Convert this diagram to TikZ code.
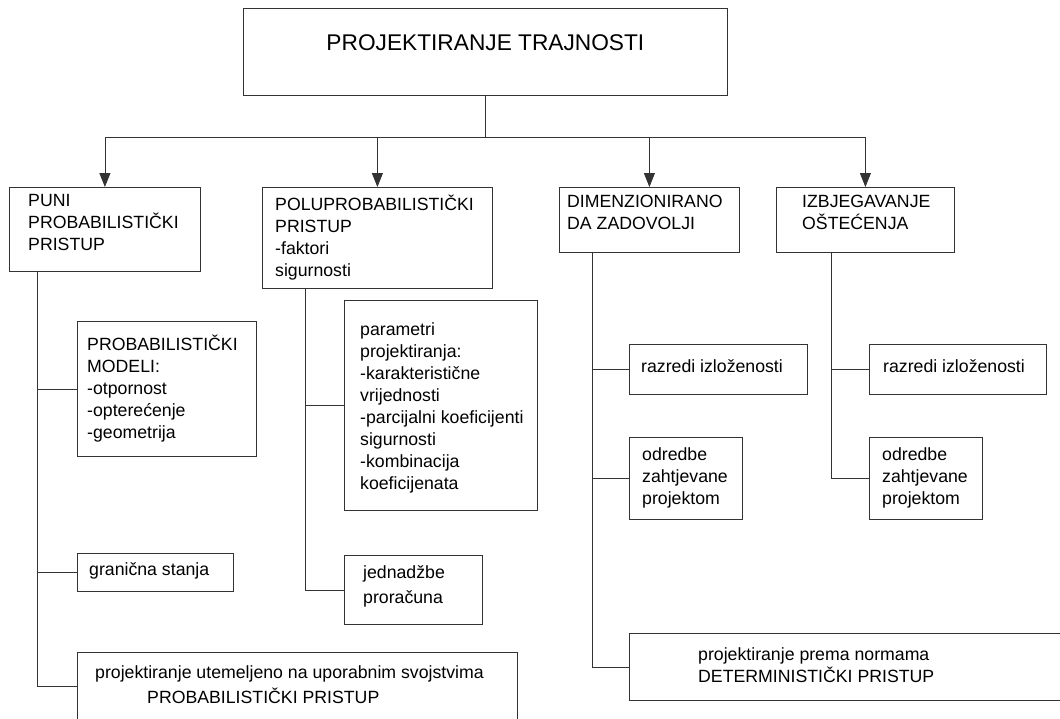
\documentclass[tikz,border=0pt]{standalone}
\usepackage{fontspec}
\setmainfont{Liberation Sans}
\usetikzlibrary{positioning,calc,arrows.meta}

\begin{document}
\begin{tikzpicture}[x=1pt,y=-1pt]
\colorlet{lncol}{black!80}
\tikzstyle{box}=[draw=lncol, line width=0.8pt, rectangle, anchor=north west, inner sep=0pt];
\tikzstyle{txt}=[anchor=north west, inner sep=0pt, align=left, font=\fontsize{17.7}{22}\selectfont];
\tikzstyle{lnk}=[draw=lncol, line width=0.8pt];
\tikzstyle{arr}=[lnk, -{Triangle[width=11pt,length=14pt]}];

\useasboundingbox (0,0) rectangle (1060,718);
\clip (0,0) rectangle (1060,718);

\begin{scope}
        \node[box, minimum width=484, minimum height=87] (ttl) at (243,8) {};
        \node[txt, font=\fontsize{22.7}{27}\selectfont, below=26pt of ttl.north] (ttltxt) {PROJEKTIRANJE TRAJNOSTI};

        \node[box, minimum width=191, minimum height=84] (puni) at (9,187) {};
        \node[box, minimum width=230, minimum height=101] (polu) at (262,187) {};
        \node[box, minimum width=180, minimum height=65] (dim) at (559,187) {};
        \node[box, minimum width=178, minimum height=65] (izb) at (776,187) {};

        \node[txt, below right=7.5pt and 19pt of puni.north west] (punitxt) {PUNI\\PROBABILISTIČKI\\PRISTUP};
        \node[txt, below right=8pt and 13pt of polu.north west] (polutxt) {POLUPROBABILISTIČKI\\PRISTUP\\-faktori\\sigurnosti};
        \node[txt, below right=8pt and 8pt of dim.north west] (dimtxt) {DIMENZIONIRANO\\DA ZADOVOLJI};
        \node[txt, below right=8pt and 26pt of izb.north west] (izbtxt) {IZBJEGAVANJE\\OŠTEĆENJA};

        \coordinate[below=42pt of ttl.south] (bus);
        \draw[lnk] (ttl.south) -- (bus);
        \foreach \c in {puni,polu,dim,izb}
          \draw[arr] (bus) -| (\c.north);
\end{scope}


\begin{scope}
        \node[box, minimum width=179, minimum height=135] (modeli) at (77,321) {};
        \node[box, minimum width=156, minimum height=38] (gran) at (77,553) {};
        \node[box, minimum width=440, minimum height=68] (utem) at (77,652) {};

        \node[box, minimum width=193, minimum height=210] (param) at (344,300) {};
        \node[box, minimum width=138, minimum height=69] (jedn) at (344,555) {};

        \node[box, minimum width=178, minimum height=50] (raz1) at (629,344) {};
        \node[box, minimum width=113, minimum height=82] (odr1) at (629,437) {};
        \node[box, minimum width=440, minimum height=67] (norm) at (629,633) {};

        \node[box, minimum width=177, minimum height=50] (raz2) at (869,344) {};
        \node[box, minimum width=113, minimum height=82] (odr2) at (869,437) {};


        \node[txt, below right=14pt and 10pt of modeli.north west] (modelitxt) {PROBABILISTIČKI\\MODELI:\\-otpornost\\-opterećenje\\-geometrija};
        \node[txt, below right=9pt and 12pt of gran.north west] (grantxt) {granična stanja};
        \node[txt, below right=13pt and 18pt of utem.north west] (utemtxt) {projektiranje utemeljeno na uporabnim svojstvima\\[3pt]\hspace*{52pt}PROBABILISTIČKI PRISTUP};

        \node[txt, below right=22pt and 16pt of param.north west] (paramtxt) {parametri\\projektiranja:\\-karakteristične\\vrijednosti\\-parcijalni koeficijenti\\sigurnosti\\-kombinacija\\koeficijenata};
        \node[txt, below right=10pt and 19pt of jedn.north west] (jedntxt) {jednadžbe\\[3pt]proračuna};

        \node[txt, below right=15pt and 12pt of raz1.north west] (raz1txt) {razredi izloženosti};
        \node[txt, below right=10pt and 13pt of odr1.north west] (odr1txt) {odredbe\\zahtjevane\\projektom};
        \node[txt, below right=14pt and 69pt of norm.north west] (normtxt) {projektiranje prema normama\\DETERMINISTIČKI PRISTUP};

        \node[txt, below right=15pt and 14pt of raz2.north west] (raz2txt) {razredi izloženosti};
        \node[txt, below right=10pt and 13pt of odr2.north west] (odr2txt) {odredbe\\zahtjevane\\projektom};


        \foreach \c in {modeli,gran,utem}
          \draw[lnk] ([xshift=28pt]puni.south west) |- (\c.west);
        \foreach \c in {param,jedn}
          \draw[lnk] ([xshift=43pt]polu.south west) |- (\c.west);
        \foreach \c in {raz1,odr1,norm}
          \draw[lnk] ([xshift=33pt]dim.south west) |- (\c.west);
        \foreach \c in {raz2,odr2}
          \draw[lnk] ([xshift=55pt]izb.south west) |- (\c.west);
\end{scope}


\end{tikzpicture}
\end{document}
